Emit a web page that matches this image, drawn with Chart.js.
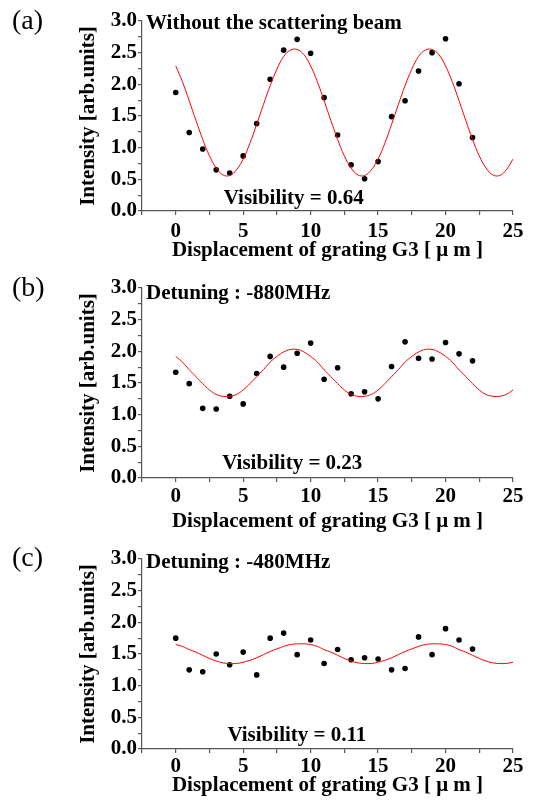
<!DOCTYPE html>
<html>
<head>
<meta charset="utf-8">
<script src="https://cdn.jsdelivr.net/npm/chart.js@4.4.0/dist/chart.umd.min.js"></script>
<style>
  html, body { margin: 0; padding: 0; background: #fff; }
  #wrap { position: relative; width: 536px; height: 801px; overflow: hidden; }
  .panel { position: absolute; left: 0; width: 536px; }
  .tag { position: absolute; left: 12px; font: 28px "Liberation Serif", serif; color: #000; line-height: 1; }
</style>
</head>
<body>
<div id="wrap">
  <div class="panel" style="top:0px;height:263px"><canvas id="chart-a"></canvas></div>
  <div class="panel" style="top:267px;height:267px"><canvas id="chart-b"></canvas></div>
  <div class="panel" style="top:538px;height:260px"><canvas id="chart-c"></canvas></div>
  <div class="tag" style="top:6px">(a)</div>
  <div class="tag" style="top:273px">(b)</div>
  <div class="tag" style="top:543px">(c)</div>
</div>
<script>
// measured points (grating displacement in um)
const pointX = [0, 1, 2, 3, 4, 5, 6, 7, 8, 9, 10, 11, 12, 13, 14, 15, 16, 17, 18, 19, 20, 21, 22];
const pointsA = [1.87, 1.24, 0.98, 0.65, 0.60, 0.87, 1.38, 2.08, 2.54, 2.71, 2.49, 1.79, 1.20, 0.73, 0.51, 0.78, 1.49, 1.74, 2.21, 2.50, 2.72, 2.01, 1.16];
const pointsB = [1.67, 1.49, 1.10, 1.09, 1.29, 1.17, 1.65, 1.92, 1.75, 1.97, 2.13, 1.56, 1.74, 1.33, 1.36, 1.25, 1.76, 2.15, 1.89, 1.88, 2.14, 1.96, 1.85];
const pointsC = [1.75, 1.25, 1.22, 1.50, 1.33, 1.53, 1.17, 1.75, 1.83, 1.49, 1.72, 1.35, 1.57, 1.41, 1.44, 1.42, 1.25, 1.27, 1.77, 1.49, 1.90, 1.72, 1.58];

// fitted curves, every 0.5 um
const curveX = [0, 0.5, 1, 1.5, 2, 2.5, 3, 3.5, 4, 4.5, 5, 5.5, 6, 6.5, 7, 7.5, 8, 8.5, 9, 9.5,
  10, 10.5, 11, 11.5, 12, 12.5, 13, 13.5, 14, 14.5, 15, 15.5, 16, 16.5, 17, 17.5, 18, 18.5, 19, 19.5,
  20, 20.5, 21, 21.5, 22, 22.5, 23, 23.5, 24, 24.5, 25];
const fitA = [2.29, 2.04, 1.74, 1.43, 1.13, 0.87, 0.68, 0.57, 0.56, 0.65, 0.82, 1.07, 1.37, 1.68, 1.98, 2.24, 2.44, 2.54, 2.55, 2.47,
  2.29, 2.04, 1.74, 1.43, 1.13, 0.87, 0.68, 0.57, 0.56, 0.65, 0.82, 1.07, 1.37, 1.68, 1.98, 2.24, 2.44, 2.54, 2.55, 2.47,
  2.29, 2.04, 1.74, 1.43, 1.13, 0.87, 0.68, 0.57, 0.56, 0.65, 0.82];
const fitB = [1.92, 1.83, 1.71, 1.60, 1.49, 1.39, 1.32, 1.29, 1.29, 1.32, 1.39, 1.49, 1.60, 1.71, 1.83, 1.92, 1.99, 2.03, 2.03, 1.99,
  1.92, 1.83, 1.71, 1.60, 1.49, 1.39, 1.32, 1.29, 1.29, 1.32, 1.39, 1.49, 1.60, 1.71, 1.83, 1.92, 1.99, 2.03, 2.03, 1.99,
  1.92, 1.83, 1.71, 1.60, 1.49, 1.39, 1.32, 1.29, 1.29, 1.32, 1.39];
const fitC = [1.65, 1.62, 1.57, 1.53, 1.48, 1.43, 1.39, 1.36, 1.35, 1.35, 1.37, 1.40, 1.44, 1.49, 1.54, 1.58, 1.62, 1.65, 1.66, 1.66,
  1.65, 1.62, 1.57, 1.53, 1.48, 1.43, 1.39, 1.36, 1.35, 1.35, 1.37, 1.40, 1.44, 1.49, 1.54, 1.58, 1.62, 1.65, 1.66, 1.66,
  1.65, 1.62, 1.57, 1.53, 1.48, 1.43, 1.39, 1.36, 1.35, 1.35, 1.37];

const xTickLabels = ["0", "5", "10", "15", "20", "25"];
const yTickLabels = ["0.0", "0.5", "1.0", "1.5", "2.0", "2.5", "3.0"];

const FONT = '"Liberation Serif", "Times New Roman", serif';
const BOLD = { family: FONT, size: 21, weight: "bold" };
const AXIS = "#555";

// in-plot text: title + visibility
const notesPlugin = {
  id: "notes",
  afterDatasetsDraw(chart, args, opts) {
    const { ctx, chartArea } = chart;
    ctx.save();
    ctx.fillStyle = "#000";
    ctx.font = "bold 21px " + FONT;
    ctx.textBaseline = "alphabetic";
    ctx.textAlign = "left";
    ctx.fillText(opts.title, chartArea.left + 4, chartArea.top + opts.titleDy);
    ctx.textAlign = "center";
    ctx.fillText(opts.vis, chart.scales.x.getPixelForValue(opts.visX), chartArea.bottom - opts.visDy);
    ctx.restore();
  },
};

function makeChart(id, points, fit, notes, xHeight, xPad) {
  return new Chart(document.getElementById(id), {
    type: "scatter",
    data: {
      datasets: [
        {
          data: curveX.map((x, i) => ({ x, y: fit[i] })),
          showLine: true,
          borderColor: "#ff0000",
          borderWidth: 1,
          pointRadius: 0,
          tension: 0.4,
        },
        {
          data: pointX.map((x, i) => ({ x, y: points[i] })),
          backgroundColor: "#000",
          borderWidth: 0,
          pointRadius: 2.8,
        },
      ],
    },
    options: {
      responsive: true,
      maintainAspectRatio: false,
      animation: false,
      events: [],
      layout: { padding: { top: 21, left: 76, right: 23, bottom: 0 } },
      plugins: { legend: { display: false }, tooltip: { enabled: false }, notes },
      scales: {
        x: {
          type: "linear",
          min: -2.5,
          max: 25,
          afterFit: (s) => { s.height = xHeight; },
          afterBuildTicks: (s) => {
            s.ticks = [-2.5, 0, 2.5, 5, 7.5, 10, 12.5, 15, 17.5, 20, 22.5, 25].map((v) => ({ value: v }));
          },
          border: { color: AXIS, width: 1.2 },
          grid: { drawOnChartArea: false, drawTicks: true, tickLength: 4, color: AXIS, lineWidth: 1.2 },
          ticks: {
            padding: xPad,
            color: "#000",
            font: BOLD,
            maxRotation: 0,
            autoSkip: false,
            callback: (v) => (v % 5 === 0 ? xTickLabels[v / 5] : ""),
          },
          title: {
            display: true,
            text: "Displacement of grating G3 [ \u03bc m ]",
            color: "#000",
            font: BOLD,
            padding: 0,
          },
        },
        y: {
          type: "linear",
          min: 0,
          max: 3,
          afterFit: (s) => { s.width = 66; },
          afterBuildTicks: (s) => {
            s.ticks = [0, 0.25, 0.5, 0.75, 1, 1.25, 1.5, 1.75, 2, 2.25, 2.5, 2.75, 3].map((v) => ({ value: v }));
          },
          border: { color: AXIS, width: 1.2 },
          grid: { drawOnChartArea: false, drawTicks: true, tickLength: 4, color: AXIS, lineWidth: 1.2 },
          ticks: {
            padding: 1,
            color: "#000",
            font: BOLD,
            autoSkip: false,
            callback: (v) => (Math.abs(v * 2 - Math.round(v * 2)) < 1e-6 ? yTickLabels[Math.round(v * 2)] : ""),
          },
          title: {
            display: true,
            text: "Intensity [arb.units]",
            color: "#000",
            font: BOLD,
            padding: 0,
          },
        },
      },
    },
    plugins: [notesPlugin],
  });
}

makeChart("chart-a", pointsA, fitA,
  { title: "Without the scattering beam", titleDy: 8.3, vis: "Visibility = 0.64", visX: 8.75, visDy: 7 }, 52, 3.5);
makeChart("chart-b", pointsB, fitB,
  { title: "Detuning : -880MHz", titleDy: 11.3, vis: "Visibility = 0.23", visX: 8.64, visDy: 8.7 }, 56, 2.2);
makeChart("chart-c", pointsC, fitC,
  { title: "Detuning : -480MHz", titleDy: 9.3, vis: "Visibility = 0.11", visX: 8.98, visDy: 8.3 }, 49, 0.5);
</script>
</body>
</html>
